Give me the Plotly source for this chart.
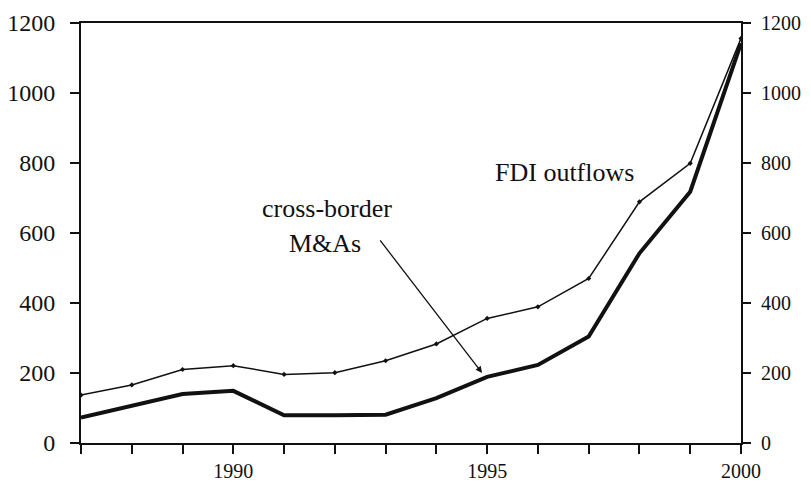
import plotly.graph_objects as go

years = list(range(1987, 2001))
fdi_outflows = [137, 166, 210, 221, 196, 201, 235, 283, 356, 389, 470, 689, 799, 1156]
cross_border_ma = [73, 107, 140, 149, 79, 79, 81, 128, 189, 223, 304, 542, 718, 1142]
y_ticks = [0, 200, 400, 600, 800, 1000, 1200]
x_ticks = [1990, 1995, 2000]

FONT = "Liberation Serif"
INK = "#111111"

fig = go.Figure()
fig.add_trace(go.Scatter(
    x=years, y=fdi_outflows, mode="lines+markers", name="FDI outflows",
    line=dict(color=INK, width=1.5),
    marker=dict(color=INK, size=4, symbol="diamond"),
))
fig.add_trace(go.Scatter(
    x=years, y=cross_border_ma, mode="lines", name="cross-border M&As",
    line=dict(color=INK, width=4),
))
# invisible trace for right axis
fig.add_trace(go.Scatter(x=[years[0]], y=[0], yaxis="y2", mode="markers",
                         marker=dict(opacity=0), showlegend=False, hoverinfo="skip"))

# page body has an 8px default margin; margins below compensate for it
fig.update_layout(
    width=811, height=482,
    margin=dict(l=73, r=78, t=15, b=47),
    paper_bgcolor="white", plot_bgcolor="white",
    showlegend=False,
    font=dict(family=FONT, size=24, color=INK),
    xaxis=dict(
        range=[1987, 2000], tickvals=years,
        ticktext=[str(y) if y in x_ticks else "" for y in years],
        ticks="outside", ticklen=9, tickwidth=1.5, tickcolor=INK,
        showline=True, linecolor=INK, linewidth=2, mirror=True,
        showgrid=False, zeroline=False, automargin=False,
        tickfont=dict(family=FONT, size=20, color=INK),
    ),
    yaxis=dict(
        range=[0, 1200], tickvals=y_ticks,
        ticks="outside", ticklen=9, tickwidth=1.5, tickcolor=INK,
        showline=True, linecolor=INK, linewidth=2,
        showgrid=False, zeroline=False, automargin=False,
        ticklabelstandoff=10,
        tickfont=dict(family=FONT, size=24, color=INK),
    ),
    yaxis2=dict(
        range=[0, 1200], tickvals=y_ticks, overlaying="y", side="right",
        ticks="outside", ticklen=8, tickwidth=1.5, tickcolor=INK,
        showline=True, linecolor=INK, linewidth=2,
        showgrid=False, zeroline=False, automargin=False,
        ticklabelstandoff=6,
        tickfont=dict(family=FONT, size=20, color=INK),
    ),
)

fig.add_annotation(x=1996.53, y=774, text="FDI outflows", showarrow=False,
                   font=dict(family=FONT, size=26, color=INK))
fig.add_annotation(x=1991.85, y=669, text="cross-border", showarrow=False,
                   font=dict(family=FONT, size=26, color=INK))
fig.add_annotation(x=1991.8, y=571, text="M&As", showarrow=False,
                   font=dict(family=FONT, size=26, color=INK))
fig.add_annotation(x=1994.9, y=200, ax=1992.87, ay=583, axref="x", ayref="y",
                   text="", showarrow=True, arrowhead=2, arrowsize=1,
                   arrowwidth=1.3, arrowcolor=INK)

fig.write_html("out.html")
